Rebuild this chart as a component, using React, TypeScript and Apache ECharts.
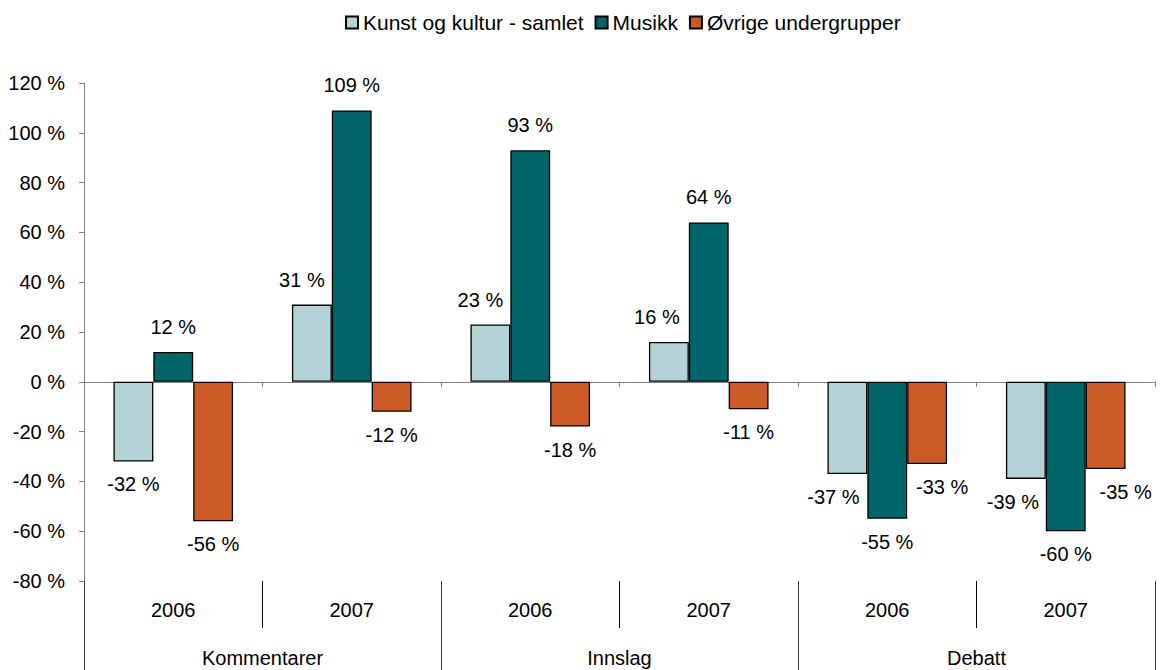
import React, { useEffect, useRef } from "react";
import * as echarts from "echarts";

const years = ["2006", "2007", "2006", "2007", "2006", "2007"];
const groups = ["Kommentarer", "Innslag", "Debatt"];
const seriesNames = ["Kunst og kultur - samlet", "Musikk", "Øvrige undergrupper"];
const kunst = [-32, 31, 23, 16, -37, -39];
const musikk = [12, 109, 93, 64, -55, -60];
const ovrige = [-56, -12, -18, -11, -33, -35];
const yTicks = { min: -80, max: 120, interval: 20 };

// label horizontal nudges (styling, as in the original chart)
const shiftKunst = [0, -10, -10, -12, -14, -13];
const shiftMusikk = [0, 0, 0, 0, 0, 0];
const shiftOvrige = [0, 0, 0, 0, 15, 20];

const colors = ["#B3D3D7", "#00666A", "#CD5B27"];
const FONT = "'Liberation Sans', Arial, sans-serif";
const FS = 20;

function buildData(values: number[], shifts: number[]) {
  return values.map((v, i) => ({
    value: v,
    label: {
      position: v >= 0 ? "top" : "bottom",
      distance: v >= 0 ? 15 : 13,
      offset: [shifts[i], 0],
    },
  }));
}

export default function App() {
  const ref = useRef<HTMLDivElement>(null);
  useEffect(() => {
    document.body.style.margin = "0";
    if (!ref.current) return;
    const chart = echarts.init(ref.current, undefined, { renderer: "svg" });
    const allVals = [kunst, musikk, ovrige];
    const shifts = [shiftKunst, shiftMusikk, shiftOvrige];
    chart.setOption({
      animation: false,
      textStyle: { fontFamily: FONT },
      color: colors,
      legend: {
        top: 7,
        left: 340,
        icon: "rect",
        itemWidth: 12,
        itemHeight: 12,
        itemGap: 11,
        textStyle: { fontSize: 21, color: "#000", fontFamily: FONT },
        data: seriesNames,
      },
      grid: { left: 84, right: 5, top: 83, bottom: 89, containLabel: false },
      xAxis: [
        {
          type: "category",
          data: years,
          position: "bottom",
          axisLine: { show: true, onZero: true, lineStyle: { color: "#808080", width: 1 } },
          axisTick: { show: true, length: 5, lineStyle: { color: "#808080" } },
          axisLabel: { show: false },
          splitLine: { show: false },
          z: 1,
        },
        {
          type: "category",
          data: years,
          position: "bottom",
          axisLine: { show: false, onZero: false },
          axisTick: { show: true, length: 47, lineStyle: { color: "#000" } },
          axisLabel: { show: true, margin: 19, fontSize: FS, color: "#000", fontFamily: FONT },
          splitLine: { show: false },
        },
        {
          type: "category",
          data: groups,
          position: "bottom",
          axisLine: { show: false, onZero: false },
          axisTick: { show: true, length: 95, lineStyle: { color: "#333" } },
          axisLabel: { show: true, margin: 67, fontSize: FS, color: "#000", fontFamily: FONT },
          splitLine: { show: false },
        },
      ],
      yAxis: {
        type: "value",
        min: yTicks.min,
        max: yTicks.max,
        interval: yTicks.interval,
        axisLine: { show: true, lineStyle: { color: "#808080" } },
        axisTick: { show: true, length: 5, lineStyle: { color: "#808080" } },
        axisLabel: {
          fontSize: FS,
          color: "#000",
          margin: 19,
          fontFamily: FONT,
          formatter: (v: number) => `${v} %`,
        },
        splitLine: { show: false },
      },
      series: seriesNames.map((name, si) => ({
        name,
        type: "bar",
        xAxisIndex: 0,
        barGap: "0%",
        barCategoryGap: "33%",
        itemStyle: { color: colors[si], borderColor: "#000", borderWidth: 1.3 },
        label: {
          show: true,
          fontSize: FS,
          color: "#000",
          fontFamily: FONT,
          formatter: (p: any) => `${p.value} %`,
        },
        data: buildData(allVals[si], shifts[si]),
      })),
    });
    return () => chart.dispose();
  }, []);
  return <div ref={ref} style={{ width: 1160, height: 670 }} />;
}
